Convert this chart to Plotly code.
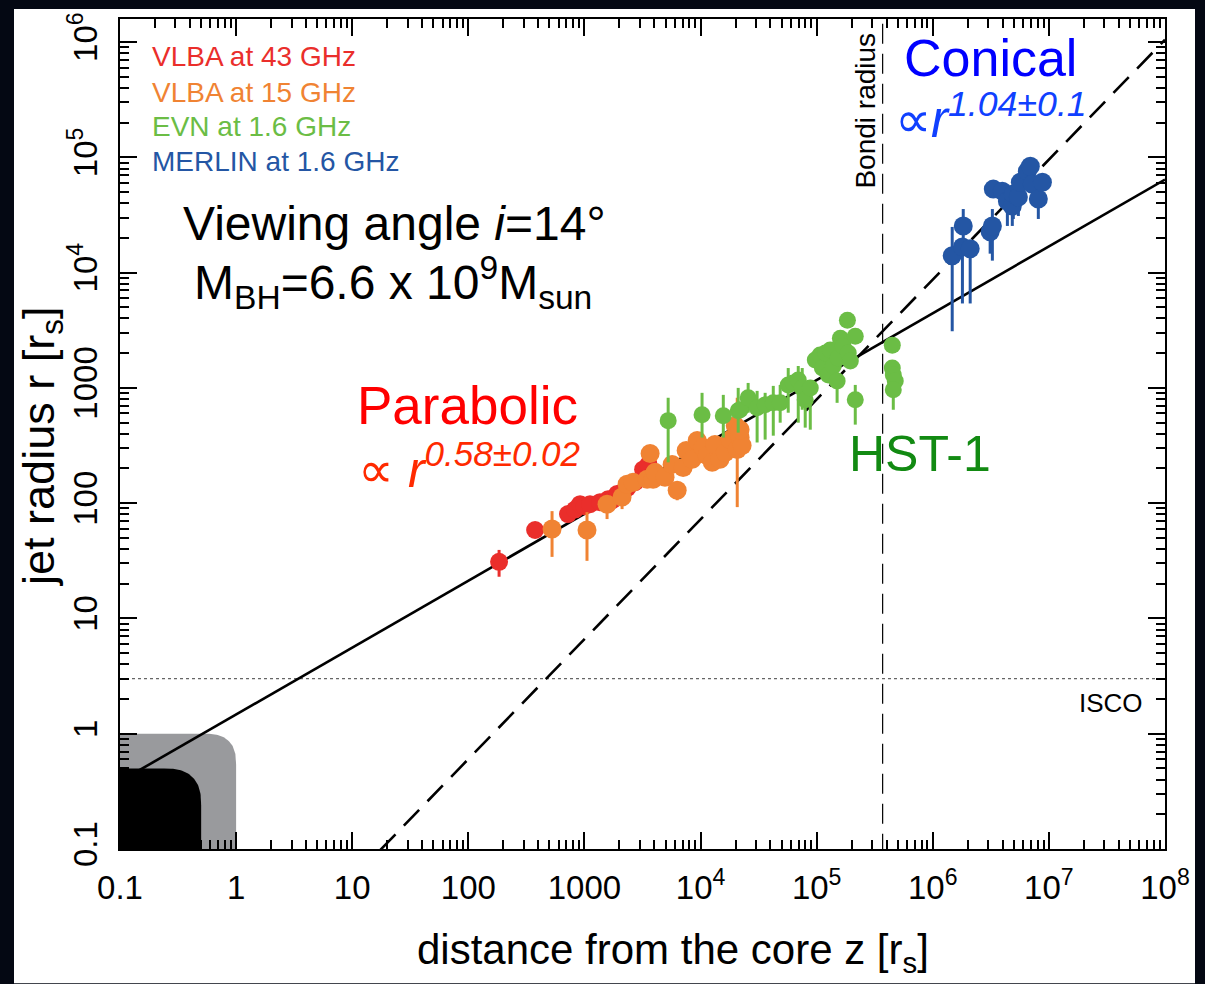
import numpy as np
import plotly.graph_objects as go

# ---------------- data ----------------
# VLBA 43 GHz
z43 = [184, 376, 722, 830, 917, 1000, 1117, 1362, 1597, 1740, 1908, 2109, 2329, 2729, 3200, 3466, 3560]
r43 = [31.0, 58.5, 80.4, 88, 98, 94, 98, 102, 108, 106, 120, 124, 135, 152, 196, 185, 217]
r43_hi = [39.3, 58.5, 80.4, 88, 98, 94, 98, 102, 108, 106, 120, 124, 135, 152, 196, 185, 217]
r43_lo = [23.0, 58.5, 80.4, 88, 98, 94, 98, 102, 108, 106, 120, 124, 135, 152, 196, 185, 217]

# VLBA 15 GHz
z15 = [526, 1052, 1566, 2109, 2329, 2624, 3678, 3466, 3906, 4055, 4943, 5690, 6290, 7080, 7520,
       8470, 9355, 10500, 11400, 12600, 13300, 14700, 16300, 18000, 19900, 20700, 21900, 22800, 21900]
r15 = [59.7, 58.5, 98, 113, 146, 152, 270, 161, 161, 185, 168, 217, 129.5, 204, 286,
       240, 349, 304, 259, 226, 323, 240, 275, 356, 470, 292, 371, 316, 434]
r15_hi = [85.3, 83.6, 117, 132, 146, 152, 270, 161, 161, 185, 168, 217, 129.5, 204, 286,
          240, 349, 304, 259, 226, 323, 240, 275, 356, 470, 821, 371, 316, 434]
r15_lo = [34.2, 31.6, 72.8, 88.8, 146, 152, 270, 161, 161, 185, 168, 217, 106, 204, 286,
          240, 349, 304, 259, 226, 323, 240, 275, 356, 470, 92.4, 371, 316, 434]

# EVN 1.6 GHz
zevn = [5260, 10300, 15700, 21100, 21900, 25700, 30700, 36000, 42300, 48500, 56900, 62800, 69400,
        75100, 79700, 88100, 97300, 107000, 112000, 119000, 126000, 131000, 139000, 150000, 153000,
        160000, 169000, 184000, 187000, 195000, 215000, 215000,
        448000, 448000, 457000, 475000, 457000]
revn = [520, 585, 574, 634, 646, 821, 672, 713, 742, 742, 1061, 1104, 1172,
        1000, 788, 1000, 1743, 1925, 1487, 2004, 1294, 2128, 1548, 1148, 1815,
        2698, 2301, 3856, 2004, 1710, 2807, 788,
        2349, 1487, 1294, 1148, 962]
revn_hi = [821, 906, 870, 1000, 646, 1104, 942, 906, 1041, 1061, 1487, 1104, 1548,
           1487, 1000, 1172, 1743, 1925, 1487, 2004, 1294, 2128, 1548, 1402, 1815,
           2698, 2301, 3856, 2004, 1710, 2807, 1061,
           2349, 1487, 1294, 1148, 962]
revn_lo = [226, 371, 371, 409, 646, 609, 336, 356, 385, 499, 609, 1104, 499,
           646, 452, 434, 1743, 1925, 1487, 2004, 1294, 2128, 1548, 742, 1815,
           2698, 2301, 3856, 2004, 1710, 2807, 480,
           2349, 1487, 1294, 1148, 646]

# MERLIN 1.6 GHz
zmer = [1.47e6, 1.83e6, 1.80e6, 2.10e6, 3.12e6, 3.26e6, 3.32e6, 3.97e6, 4.39e6, 4.84e6, 4.94e6,
        5.46e6, 5.68e6, 6.52e6, 6.92e6, 7.20e6, 8.11e6, 8.79e6]
rmer = [1.40e4, 2.54e4, 1.67e4, 1.61e4, 2.26e4, 2.54e4, 5.3e4, 5.09e4, 4.18e4, 3.78e4, 4.80e4,
        4.52e4, 6.09e4, 7.57e4, 8.37e4, 5.85e4, 4.35e4, 6.09e4]
rmer_hi = [2.49e4, 3.56e4, 1.67e4, 1.78e4, 2.26e4, 3.56e4, 5.3e4, 5.09e4, 4.18e4, 3.78e4, 4.80e4,
           4.52e4, 6.09e4, 7.57e4, 8.37e4, 5.85e4, 4.35e4, 6.09e4]
rmer_lo = [3100, 1.78e4, 5400, 5400, 1.46e4, 1.27e4, 5.3e4, 5.09e4, 2.54e4, 2.54e4, 2.92e4,
           3.10e4, 6.09e4, 7.57e4, 8.37e4, 5.85e4, 2.92e4, 6.09e4]

# fits r = A * z^k
para_k, para_A = 0.58, 1.47
coni_k, coni_A = 1.04, 10 ** -2.30
line_z = [0.1, 1e8]

bondi_z = 3.7e5
isco_r = 3.0
shadow_grey = 1.0   # grey region extent (r_s)
shadow_black = 0.5  # black region extent (r_s)

x_tickvals = [0.1, 1, 10, 100, 1000, 1e4, 1e5, 1e6, 1e7, 1e8]
x_ticktext = ["0.1", "1", "10", "100", "1000", "10<sup>4</sup>", "10<sup>5</sup>",
              "10<sup>6</sup>", "10<sup>7</sup>", "10<sup>8</sup>"]
y_tickvals = [0.1, 1, 10, 100, 1000, 1e4, 1e5, 1e6]
y_ticktext = ["0.1", "1", "10", "100", "1000", "10<sup>4</sup>", "10<sup>5</sup>", "10<sup>6</sup>"]

series = [
    ("VLBA at 43 GHz", z43, r43, r43_hi, r43_lo, "#ea2e2b", 18),
    ("VLBA at 15 GHz", z15, r15, r15_hi, r15_lo, "#f08333", 19),
    ("EVN at 1.6 GHz", zevn, revn, revn_hi, revn_lo, "#6bbd45", 17),
    ("MERLIN at 1.6 GHz", zmer, rmer, rmer_hi, rmer_lo, "#2456a4", 19),
]

# ---------------- layout geometry ----------------
W, H = 1205, 984
L, R, T, B = 120, 1165, 15, 849
FONT = "Liberation Sans, Arial, Helvetica, sans-serif"


def PX(px):
    return (px - L) / (R - L)


def PY(py):
    return (B - py) / (B - T)


fig = go.Figure()


def rounded_region(ext, rad, expo=2.6):
    lx1 = np.log10(ext)
    ly1 = np.log10(ext)
    cx, cy = lx1 - rad, ly1 - rad
    t = np.linspace(0, np.pi / 2, 40)
    ax = cx + rad * np.cos(t) ** (2 / expo)
    ay = cy + rad * np.sin(t) ** (2 / expo)
    xs = np.concatenate([[-1.5, lx1], ax, [-1.5, -1.5]])
    ys = np.concatenate([[-1.5, -1.5], ay, [ly1, -1.5]])
    return 10 ** xs, 10 ** ys


gx, gy = rounded_region(shadow_grey, 0.27)
fig.add_trace(go.Scatter(x=gx, y=gy, mode="lines", fill="toself", fillcolor="#999a9d",
                         line=dict(width=0, color="#999a9d"), hoverinfo="skip", showlegend=False))
bx, by = rounded_region(shadow_black, 0.32)
fig.add_trace(go.Scatter(x=bx, y=by, mode="lines", fill="toself", fillcolor="black",
                         line=dict(width=0, color="black"), hoverinfo="skip", showlegend=False))

# reference lines
fig.add_trace(go.Scatter(x=line_z, y=[isco_r, isco_r], mode="lines",
                         line=dict(color="#666666", width=1.2, dash="3px,3px"),
                         hoverinfo="skip", showlegend=False))
fig.add_trace(go.Scatter(x=[bondi_z, bondi_z], y=[0.05, 3e6], mode="lines",
                         line=dict(color="black", width=1.2, dash="20px,10px"),
                         hoverinfo="skip", showlegend=False))
fig.add_trace(go.Scatter(x=line_z, y=[para_A * z ** para_k for z in line_z], mode="lines",
                         line=dict(color="black", width=2.6), hoverinfo="skip", showlegend=False))
fig.add_trace(go.Scatter(x=line_z, y=[coni_A * z ** coni_k for z in line_z], mode="lines",
                         line=dict(color="black", width=2.6, dash="22px,12px"),
                         hoverinfo="skip", showlegend=False))

for name, zz, rr, hi, lo, col, msize in series:
    fig.add_trace(go.Scatter(
        x=zz, y=rr, mode="markers", name=name, showlegend=False,
        marker=dict(size=msize, color=col, line=dict(width=0)),
        error_y=dict(type="data", symmetric=False,
                     array=[h - r for h, r in zip(hi, rr)],
                     arrayminus=[r - l for l, r in zip(lo, rr)],
                     thickness=3, width=0, color=col),
    ))

minor_vals = [m * 10.0 ** k for k in range(-1, 8) for m in range(2, 10)]

axis_common = dict(
    type="log", showgrid=False, zeroline=False, showline=True, linecolor="black", linewidth=2,
    mirror="ticks", ticks="inside", ticklen=17, tickwidth=2, tickcolor="black",
    tickfont=dict(family=FONT, size=33, color="black"),
    minor=dict(tickmode="array", tickvals=minor_vals, ticks="inside", ticklen=9,
               tickwidth=2, tickcolor="black", showgrid=False),
)
fig.update_xaxes(range=[-1, 8], tickmode="array", tickvals=x_tickvals, ticktext=x_ticktext,
                 ticklabelstandoff=8, **axis_common)
fig.update_yaxes(range=[-1, 6.2], tickmode="array", tickvals=y_tickvals, ticktext=y_ticktext,
                 tickangle=-90, ticklabelstandoff=8, **axis_common)

ann = []


def add_text(text, px, py, size, color="black", xanchor="center", yanchor="middle", angle=0):
    ann.append(dict(text=text, x=PX(px), y=PY(py), xref="paper", yref="paper", showarrow=False,
                    xanchor=xanchor, yanchor=yanchor, textangle=angle,
                    font=dict(family=FONT, size=size, color=color)))


# legend labels
for (name, *_rest, col, _ms), py in zip(series, [53, 89, 123, 158]):
    add_text(name, 150, py, 28, col, xanchor="left")

add_text("Viewing angle <i>i</i>=14°", 394, 220, 48)
add_text("M<sub>BH</sub>=6.6 x 10<sup>9</sup>M<sub>sun</sub>", 393, 280, 48)
add_text("Parabolic", 467, 403, 53, "#ff0000")
add_text("∝ <i>r</i><sup><i>0.58±0.02</i></sup>", 469, 464, 50, "#ff2a00")
add_text("Conical", 990, 54, 52, "#0000ff")
add_text("∝<i>r</i><sup><i>1.04±0.1</i></sup>", 991, 112, 51, "#1040ff")
add_text("HST-1", 920, 452, 50, "#128a12")
add_text("Bondi radius", 866, 107, 28, angle=-90)
add_text("ISCO", 1145, 702, 26, xanchor="right")
add_text("distance from the core z [r<sub>s</sub>]", 673, 953, 42)
add_text("jet radius r [r<sub>s</sub>]", 42, 445, 45, angle=-90)

fig.update_layout(
    width=W, height=H, autosize=False,
    margin=dict(l=L, r=W - R, t=T, b=H - B, pad=0),
    paper_bgcolor="#040813", plot_bgcolor="white",
    annotations=ann,
    shapes=[dict(type="rect", xref="paper", yref="paper", x0=PX(14), x1=PX(1195),
                 y0=PY(984), y1=PY(5), fillcolor="white", line=dict(width=0), layer="below")],
    showlegend=False,
)

fig.write_html("out.html")
